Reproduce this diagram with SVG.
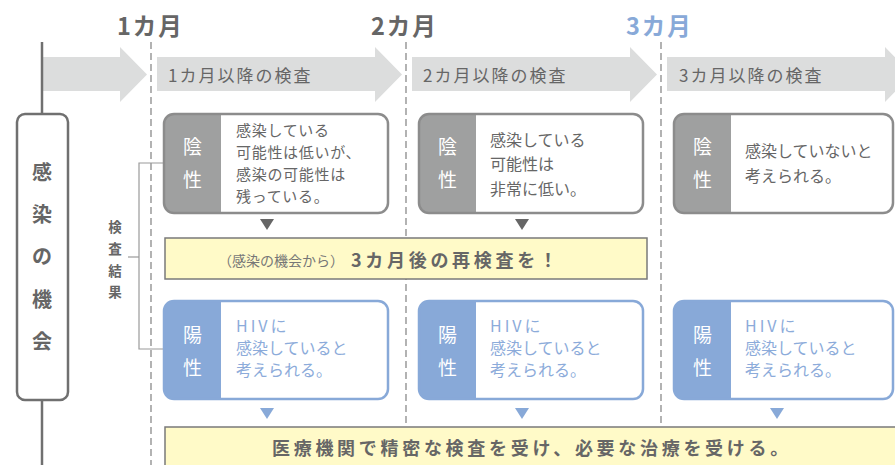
<svg xmlns="http://www.w3.org/2000/svg" width="895" height="465" viewBox="0 0 895 465">
<style>
text{font-family:"Noto Sans CJK JP","Noto Sans",sans-serif;}
.hdr{font-size:23.5px;font-weight:bold;fill:#666;letter-spacing:2px;}
.arr{fill:#dcdddd;}
.arrlbl{font-size:17px;fill:#666;letter-spacing:2px;}
.dash{stroke:#8a8a8a;stroke-width:1.3;stroke-dasharray:7 4;fill:none;}
.boxg{fill:none;stroke:#8c8c8c;stroke-width:2.5;}
.boxb{fill:none;stroke:#88a9d8;stroke-width:2.5;}
.labg{fill:#9fa0a0;}
.labb{fill:#88a9d8;}
.lab{font-size:19px;fill:#fff;text-anchor:middle;}
.tg{font-size:16px;fill:#666;}
.tb{font-size:16px;fill:#8cabda;}
.yel{fill:#fffac8;stroke:#7a7a7a;stroke-width:1.5;}
.vt{font-size:20px;font-weight:bold;fill:#666;text-anchor:middle;}
.vs{font-size:13.5px;font-weight:bold;fill:#666;text-anchor:middle;}
.tri-g{fill:#666;}
.tri-b{fill:#88a9d8;}
.thin{stroke:#9a9a9a;stroke-width:1.2;fill:none;}
</style>

<g id="timeline">
  <polygon class="arr" points="42,57 120,57 120,47 147,74.5 120,102 120,91 42,91"/>
  <polygon class="arr" points="157,57 375,57 375,47 402,74.5 375,102 375,91 157,91"/>
  <polygon class="arr" points="412,57 630,57 630,47 657,74.5 630,102 630,91 412,91"/>
  <polygon class="arr" points="667,57 885,57 885,47 912,74.5 885,102 885,91 667,91"/>
  <text class="arrlbl" x="168" y="82">1カ月以降の検査</text>
  <text class="arrlbl" x="423" y="82">2カ月以降の検査</text>
  <text class="arrlbl" x="679" y="82">3カ月以降の検査</text>
  <text class="hdr" x="117" y="35">1カ月</text>
  <text class="hdr" x="371" y="35">2カ月</text>
  <text class="hdr" x="626" y="35" style="fill:#88a9d8">3カ月</text>
</g>

<g id="connectors">
  <line class="dash" x1="151" y1="42" x2="151" y2="465"/>
  <line class="dash" x1="406" y1="42" x2="406" y2="430"/>
  <line class="dash" x1="661" y1="42" x2="661" y2="430"/>
  <line x1="42" y1="42" x2="42" y2="114" stroke="#707070" stroke-width="2.5"/>
  <line x1="42" y1="400" x2="42" y2="465" stroke="#707070" stroke-width="2.5"/>
  <polyline class="thin" points="164,163 139,163 139,349 164,349"/>
  <line class="thin" x1="128" y1="257" x2="139" y2="257"/>
  <polygon class="tri-g" points="260,219 274,219 267,230"/>
  <polygon class="tri-g" points="515,219 529,219 522,230"/>
  <polygon class="tri-b" points="260,408 274,408 267,419"/>
  <polygon class="tri-b" points="515,408 529,408 522,419"/>
  <polygon class="tri-b" points="770,408 784,408 777,419"/>
</g>

<g id="chance">
  <rect x="17" y="114" width="51" height="286" rx="8" fill="#fff" stroke="#707070" stroke-width="2.5"/>
  <text class="vt" x="42" y="180">感</text>
  <text class="vt" x="42" y="222">染</text>
  <text class="vt" x="42" y="264">の</text>
  <text class="vt" x="42" y="307">機</text>
  <text class="vt" x="42" y="349">会</text>
</g>

<g id="result-label">
  <text class="vs" x="115" y="232">検</text>
  <text class="vs" x="115" y="254">査</text>
  <text class="vs" x="115" y="276">結</text>
  <text class="vs" x="115" y="297">果</text>
</g>

<g id="neg1">
  <rect x="164" y="114" width="224" height="99" rx="10" fill="#fff"/>
  <path class="labg" d="M174,114 H221 V213 H174 A10,10 0 0 1 164,203 V124 A10,10 0 0 1 174,114 Z"/>
  <rect class="boxg" x="164" y="114" width="224" height="99" rx="10"/>
  <text class="lab" x="192.5" y="154">陰</text>
  <text class="lab" x="192.5" y="187">性</text>
  <text class="tg" x="236" y="136" style="font-size:15px;letter-spacing:0.7px"><tspan x="236">感染している</tspan><tspan x="236" dy="22">可能性は低いが、</tspan><tspan x="236" dy="22">感染の可能性は</tspan><tspan x="236" dy="22">残っている。</tspan></text>
</g>

<g id="neg2">
  <rect x="419" y="114" width="224" height="99" rx="10" fill="#fff"/>
  <path class="labg" d="M429,114 H476 V213 H429 A10,10 0 0 1 419,203 V124 A10,10 0 0 1 429,114 Z"/>
  <rect class="boxg" x="419" y="114" width="224" height="99" rx="10"/>
  <text class="lab" x="447.5" y="154">陰</text>
  <text class="lab" x="447.5" y="187">性</text>
  <text class="tg" x="490" y="146"><tspan x="490">感染している</tspan><tspan x="490" dy="24.3">可能性は</tspan><tspan x="490" dy="24.3">非常に低い。</tspan></text>
</g>

<g id="neg3">
  <rect x="674" y="114" width="219" height="99" rx="10" fill="#fff"/>
  <path class="labg" d="M684,114 H731 V213 H684 A10,10 0 0 1 674,203 V124 A10,10 0 0 1 684,114 Z"/>
  <rect class="boxg" x="674" y="114" width="219" height="99" rx="10"/>
  <text class="lab" x="702.5" y="154">陰</text>
  <text class="lab" x="702.5" y="187">性</text>
  <text class="tg" x="745" y="157"><tspan x="745">感染していないと</tspan><tspan x="745" dy="25">考えられる。</tspan></text>
</g>

<g id="retest">
  <rect class="yel" x="165" y="238" width="482" height="41"/>
  <text x="218" y="266" style="font-size:14px;fill:#777">（感染の機会から）</text>
  <text x="351" y="267" style="font-size:18px;font-weight:bold;fill:#666;letter-spacing:3.7px">3カ月後の再検査を！</text>
</g>

<g id="pos1">
  <rect x="164" y="301" width="224" height="98" rx="10" fill="#fff"/>
  <path class="labb" d="M174,301 H221 V399 H174 A10,10 0 0 1 164,389 V311 A10,10 0 0 1 174,301 Z"/>
  <rect class="boxb" x="164" y="301" width="224" height="98" rx="10"/>
  <text class="lab" x="192.5" y="342">陽</text>
  <text class="lab" x="192.5" y="375">性</text>
  <text class="tb" x="236" y="332"><tspan x="236" style="letter-spacing:3px">HIV</tspan><tspan>に</tspan><tspan x="236" dy="22">感染していると</tspan><tspan x="236" dy="22">考えられる。</tspan></text>
</g>

<g id="pos2">
  <rect x="419" y="301" width="224" height="98" rx="10" fill="#fff"/>
  <path class="labb" d="M429,301 H476 V399 H429 A10,10 0 0 1 419,389 V311 A10,10 0 0 1 429,301 Z"/>
  <rect class="boxb" x="419" y="301" width="224" height="98" rx="10"/>
  <text class="lab" x="447.5" y="342">陽</text>
  <text class="lab" x="447.5" y="375">性</text>
  <text class="tb" x="490" y="332"><tspan x="490" style="letter-spacing:3px">HIV</tspan><tspan>に</tspan><tspan x="490" dy="22">感染していると</tspan><tspan x="490" dy="22">考えられる。</tspan></text>
</g>

<g id="pos3">
  <rect x="674" y="301" width="219" height="98" rx="10" fill="#fff"/>
  <path class="labb" d="M684,301 H731 V399 H684 A10,10 0 0 1 674,389 V311 A10,10 0 0 1 684,301 Z"/>
  <rect class="boxb" x="674" y="301" width="219" height="98" rx="10"/>
  <text class="lab" x="702.5" y="342">陽</text>
  <text class="lab" x="702.5" y="375">性</text>
  <text class="tb" x="745" y="332"><tspan x="745" style="letter-spacing:3px">HIV</tspan><tspan>に</tspan><tspan x="745" dy="22">感染していると</tspan><tspan x="745" dy="22">考えられる。</tspan></text>
</g>

<g id="treatment">
  <rect class="yel" x="165" y="427" width="745" height="50"/>
  <text x="272" y="455" style="font-size:18px;font-weight:bold;fill:#666;letter-spacing:3.7px">医療機関で精密な検査を受け、必要な治療を受ける。</text>
</g>
</svg>
